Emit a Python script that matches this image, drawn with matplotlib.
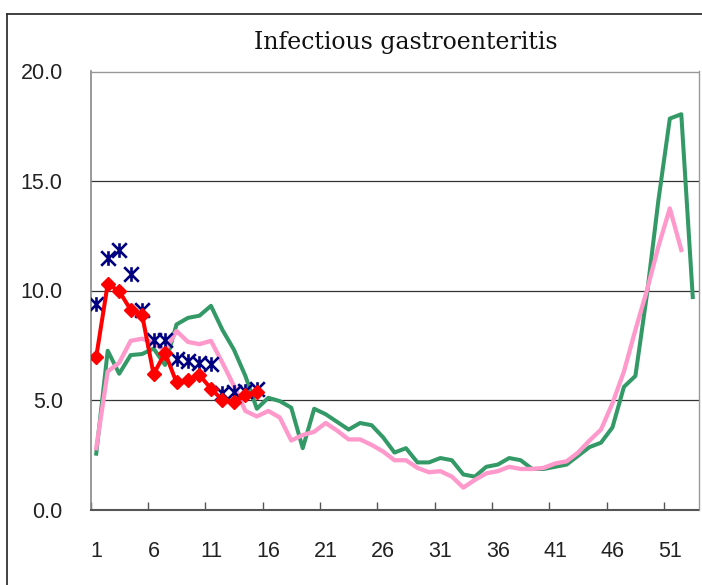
import numpy as np
import matplotlib
matplotlib.use('Agg')
import matplotlib.pyplot as plt
from matplotlib.path import Path
from matplotlib.lines import Line2D

# Dados (semanas)
semanas_verde = list(range(1, 54))
verde = [2.55, 7.25, 6.2, 7.05, 7.1, 7.35, 6.6, 8.45, 8.75, 8.85,
         9.3, 8.2, 7.3, 6.1, 4.6, 5.1, 4.95, 4.65, 2.8, 4.6,
         4.35, 4.0, 3.65, 3.95, 3.85, 3.3, 2.6, 2.8, 2.15, 2.15,
         2.35, 2.25, 1.6, 1.5, 1.95, 2.05, 2.35, 2.25, 1.85, 1.85,
         1.95, 2.05, 2.45, 2.85, 3.05, 3.75, 5.6, 6.1, 9.8, 14.1,
         17.85, 18.05, 9.7]

semanas_rosa = list(range(1, 53))
rosa = [2.8, 6.3, 6.7, 7.7, 7.8, 7.6, 7.25, 8.15, 7.65, 7.55,
        7.7, 6.7, 5.65, 4.5, 4.25, 4.5, 4.2, 3.15, 3.4, 3.55,
        3.95, 3.6, 3.2, 3.2, 2.95, 2.65, 2.25, 2.25, 1.9, 1.7,
        1.75, 1.5, 1.0, 1.35, 1.65, 1.75, 1.95, 1.85, 1.85, 1.9,
        2.1, 2.2, 2.6, 3.15, 3.65, 4.85, 6.3, 8.2, 10.0, 12.0,
        13.75, 11.85]

semanas_atual = list(range(1, 16))
vermelho = [6.97, 10.3, 9.97, 9.12, 8.88, 6.18, 7.15, 5.8, 5.92, 6.14,
            5.52, 5.0, 4.92, 5.22, 5.37]
azul = [9.4, 11.48, 11.83, 10.76, 9.1, 7.73, 7.73, 6.86, 6.78, 6.7,
        6.63, 5.34, 5.36, 5.4, 5.5]

rotulos_x = [1, 6, 11, 16, 21, 26, 31, 36, 41, 46, 51]
ticks_y = [0, 5, 10, 15, 20]

# Marcador asterisco (estilo Excel)
estrela = Path([(0, -1), (0, 1), (-1, -1), (1, 1), (-1, 1), (1, -1)],
               [Path.MOVETO, Path.LINETO, Path.MOVETO, Path.LINETO,
                Path.MOVETO, Path.LINETO])

fig = plt.figure(figsize=(7.02, 5.85), dpi=100)
ax = fig.add_axes([90.5 / 702, 75.5 / 585, 608 / 702, 438 / 585])

ax.plot(semanas_verde, verde, color='#339966', lw=2.9, zorder=3)
ax.plot(semanas_rosa, rosa, color='#FF99CC', lw=3.1, zorder=4)
ax.plot(semanas_atual, azul, ls='none', marker=estrela, ms=10.5,
        mew=1.9, mec='#000080', zorder=5)
ax.plot(semanas_atual, vermelho, color='#FF0000', lw=2.9, marker='D',
        ms=7.2, mfc='#FF0000', mec='#FF0000', zorder=6)

ax.set_xlim(0.5, 53.5)
ax.set_ylim(0, 20)

# Eixo x: marcas entre categorias, rótulos nas categorias
ax.set_xticks(np.arange(0.5, 51, 5))
ax.set_xticklabels([])
ax.set_xticks(rotulos_x, minor=True)
ax.set_xticklabels([str(v) for v in rotulos_x], minor=True)
ax.tick_params(axis='x', which='major', direction='in', length=6,
               width=1, color='#555555')
ax.tick_params(axis='x', which='minor', length=0, pad=23,
               labelsize=15.5, labelcolor='#222222')

ax.set_yticks(ticks_y)
ax.set_yticklabels(['%.1f' % v for v in ticks_y])
ax.tick_params(axis='y', length=0, pad=20, labelsize=15.5,
               labelcolor='#222222')
for lab in ax.get_xticklabels(minor=True) + ax.get_yticklabels():
    lab.set_family(['Liberation Sans Narrow', 'Liberation Sans'])

ax.grid(axis='y', color='#333333', lw=0.9)
ax.set_axisbelow(True)

for lado in ['top', 'right']:
    ax.spines[lado].set_color('#999999')
    ax.spines[lado].set_linewidth(1)
ax.spines['left'].set_color('#888888')
ax.spines['left'].set_linewidth(1.2)
ax.spines['bottom'].set_color('#555555')
ax.spines['bottom'].set_linewidth(1.5)

# Título
fig.text(406 / 702, 1 - 42 / 585, 'Infectious gastroenteritis',
         ha='center', va='center', fontsize=17, family='DejaVu Serif',
         color='#111111')

# Borda da área do gráfico
fig.add_artist(Line2D([6.5 / 702, 6.5 / 702], [0, 1 - 13.5 / 585],
                      transform=fig.transFigure, color='#333333', lw=1.3))
fig.add_artist(Line2D([6.5 / 702, 1], [1 - 13.5 / 585, 1 - 13.5 / 585],
                      transform=fig.transFigure, color='#333333', lw=1.3))

fig.savefig('out.png', dpi=100)
